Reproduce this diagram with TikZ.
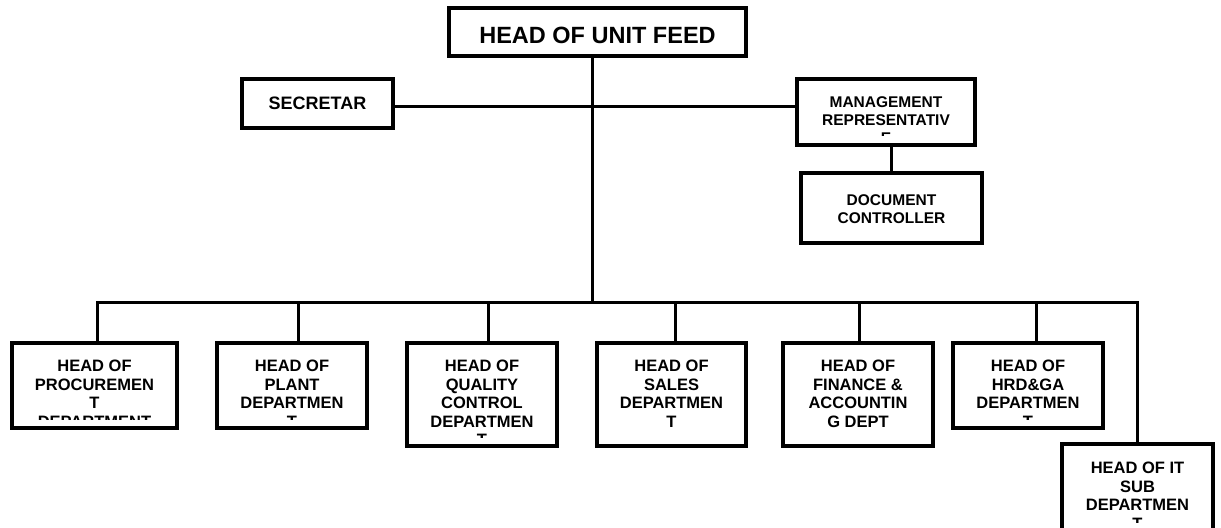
\documentclass[tikz,border=0pt]{standalone}
\usepackage{fontspec}
\setmainfont{Liberation Sans}
\begin{document}
\begin{tikzpicture}[x=1bp,y=-1bp,
  box/.style={draw, line width=3.5bp, inner sep=0pt, outer sep=0pt},
  conn/.style={line width=3bp, line join=miter},
  txt/.style={inner sep=0pt, outer sep=0pt, align=center, anchor=north,
    font=\bfseries\fontsize{16.5bp}{18.5bp}\selectfont},
  txtsm/.style={txt, font=\bfseries\fontsize{15.5bp}{18bp}\selectfont},
]
\useasboundingbox[fill=white] (0,0) rectangle (1221,528);

% ---------- boxes ----------
\node[box, minimum width=297bp, minimum height=48bp] (title) at (597.5,32) {};
\node[box, minimum width=151bp, minimum height=49bp] (sec) at (317.5,103.5) {};
\node[box, minimum width=178bp, minimum height=66bp] (mr) at (886,112) {};
\node[box, minimum width=181bp, minimum height=70bp] (dc) at (891.5,208) {};
\node[box, minimum width=165bp, minimum height=85bp] (proc) at (94.5,385.5) {};
\node[box, minimum width=150bp, minimum height=85bp] (plant) at (292,385.5) {};
\node[box, minimum width=150bp, minimum height=103bp] (qc) at (482,394.5) {};
\node[box, minimum width=149bp, minimum height=103bp] (sales) at (671.5,394.5) {};
\node[box, minimum width=150bp, minimum height=103bp] (fin) at (858,394.5) {};
\node[box, minimum width=150bp, minimum height=85bp] (hrd) at (1028,385.5) {};
\node[box, minimum width=151bp, minimum height=87bp] (it) at (1137.5,487.5) {};

% ---------- texts (clipped to the inner area of each box) ----------
\node[txt, font=\bfseries\fontsize{23.5bp}{26bp}\selectfont] (titlet) at ([yshift=-19bp]title.north) {HEAD OF UNIT FEED};
\node[txt, font=\bfseries\fontsize{18bp}{20bp}\selectfont] (sect) at ([yshift=-18bp]sec.north) {SECRETAR};

\begin{scope}
  \clip ([shift={(2,2)}]mr.north west) rectangle ([shift={(-2,-9)}]mr.south east);
  \node[txtsm] (mrt) at ([yshift=-18bp]mr.north) {MANAGEMENT\\REPRESENTATIV\\E};
\end{scope}
\begin{scope}
  \clip ([shift={(2,2)}]dc.north west) rectangle ([shift={(-2,-9)}]dc.south east);
  \node[txtsm] (dct) at ([yshift=-22bp]dc.north) {DOCUMENT\\CONTROLLER};
\end{scope}
\begin{scope}
  \clip ([shift={(2,2)}]proc.north west) rectangle ([shift={(-2,-9)}]proc.south east);
  \node[txt] (proct) at ([yshift=-17bp]proc.north) {HEAD OF\\PROCUREMEN\\T\\DEPARTMENT};
\end{scope}
\begin{scope}
  \clip ([shift={(2,2)}]plant.north west) rectangle ([shift={(-2,-9)}]plant.south east);
  \node[txt] (plantt) at ([yshift=-17bp]plant.north) {HEAD OF\\PLANT\\DEPARTMEN\\T};
\end{scope}
\begin{scope}
  \clip ([shift={(2,2)}]qc.north west) rectangle ([shift={(-2,-9)}]qc.south east);
  \node[txt] (qct) at ([yshift=-17bp]qc.north) {HEAD OF\\QUALITY\\CONTROL\\DEPARTMEN\\T};
\end{scope}
\begin{scope}
  \clip ([shift={(2,2)}]sales.north west) rectangle ([shift={(-2,-9)}]sales.south east);
  \node[txt] (salest) at ([yshift=-17bp]sales.north) {HEAD OF\\SALES\\DEPARTMEN\\T};
\end{scope}
\begin{scope}
  \clip ([shift={(2,2)}]fin.north west) rectangle ([shift={(-2,-9)}]fin.south east);
  \node[txt] (fint) at ([yshift=-17bp]fin.north) {HEAD OF\\FINANCE \&\\ACCOUNTIN\\G DEPT};
\end{scope}
\begin{scope}
  \clip ([shift={(2,2)}]hrd.north west) rectangle ([shift={(-2,-9)}]hrd.south east);
  \node[txt] (hrdt) at ([yshift=-17bp]hrd.north) {HEAD OF\\HRD\&GA\\DEPARTMEN\\T};
\end{scope}
\begin{scope}
  \clip ([shift={(2,2)}]it.north west) rectangle ([shift={(-2,-9)}]it.south east);
  \node[txt] (itt) at ([yshift=-18bp]it.north) {HEAD OF IT\\SUB\\DEPARTMEN\\T};
\end{scope}

% ---------- connectors ----------
\coordinate (sp) at (592,303);
\coordinate (hl) at (592,107);
\draw[conn] (title.south -| sp) -- (sp);
\draw[conn] (hl -| sec.east) -- (hl -| mr.west);
\draw[conn] (dc.north) -- (dc.north |- mr.south);

\coordinate (dproc) at (97,303);
\draw[conn] (proc.north -| dproc) -- (dproc) -- (dproc -| it.north) -- (it.north);
\foreach \n/\x in {plant/298, qc/488, sales/675, fin/859, hrd/1036}{
  \coordinate (d\n) at (\x,303);
  \draw[conn] (d\n) -- (d\n |- \n.north);
}
\end{tikzpicture}
\end{document}
